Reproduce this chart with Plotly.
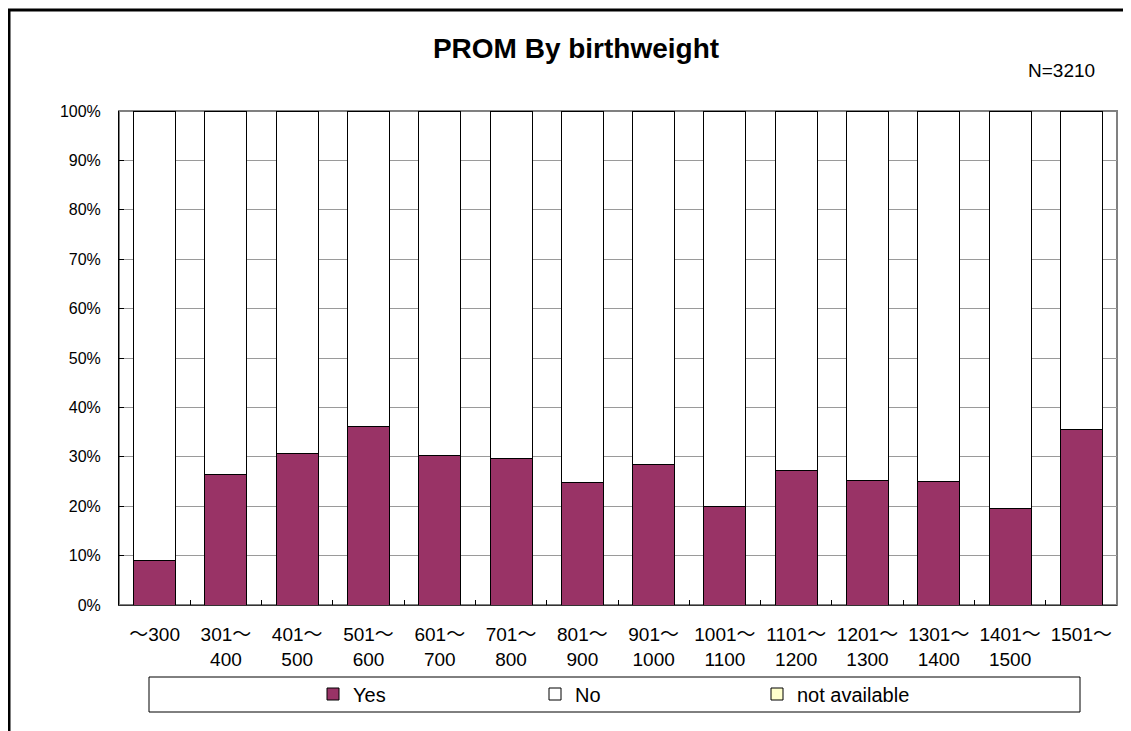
import plotly.graph_objects as go

categories = ["～300", "301～<br>400", "401～<br>500", "501～<br>600", "601～<br>700",
              "701～<br>800", "801～<br>900", "901～<br>1000", "1001～<br>1100",
              "1101～<br>1200", "1201～<br>1300", "1301～<br>1400", "1401～<br>1500", "1501～"]
yes_pct = [9.1, 26.5, 30.6, 36.2, 30.2, 29.6, 24.8, 28.4, 20.0, 27.3, 25.2, 24.9, 19.6, 35.6]
no_pct = [90.9, 73.5, 69.4, 63.8, 69.8, 70.4, 75.2, 71.6, 80.0, 72.7, 74.8, 75.1, 80.4, 64.4]
na_pct = [0, 0, 0, 0, 0, 0, 0, 0, 0, 0, 0, 0, 0, 0]
y_ticks = [0, 10, 20, 30, 40, 50, 60, 70, 80, 90, 100]
y_tick_labels = ["0%", "10%", "20%", "30%", "40%", "50%", "60%", "70%", "80%", "90%", "100%"]

FONT = "Liberation Sans, Arial, Noto Sans CJK JP, sans-serif"

# page offset (browser body margin)
OFF = 8
W, H = 1131 - OFF, 731 - OFF
# plot area in page pixels
L, R, T, B = 119, 1117, 111, 605

def px(x):
    return (x - L) / (R - L)

def py(y):
    return (B - y) / (B - T)

fig = go.Figure()
fig.add_trace(go.Bar(x=categories, y=yes_pct, name="Yes",
                     marker=dict(color="#993366", line=dict(color="black", width=1))))
fig.add_trace(go.Bar(x=categories, y=no_pct, name="No",
                     marker=dict(color="white", line=dict(color="black", width=1))))
fig.add_trace(go.Bar(x=categories, y=na_pct, name="not available",
                     marker=dict(color="#FFFFCC", line=dict(color="black", width=1))))

fig.update_layout(
    width=W, height=H,
    barmode="stack", bargap=0.41,
    paper_bgcolor="white", plot_bgcolor="white",
    margin=dict(l=L - OFF, r=W - (R - OFF), t=T - OFF, b=H - (B - OFF), pad=0),
    font=dict(family=FONT, color="black", size=16),
    title=dict(text="<b>PROM By birthweight</b>", x=(576 - OFF) / W, xref="container",
               xanchor="center", y=1 - (48 - OFF) / H, yref="container", yanchor="middle",
               font=dict(size=28, family=FONT, color="black")),
    showlegend=True,
    legend=dict(orientation="h", traceorder="normal", x=px(313), xanchor="left",
                y=py(694), yanchor="middle", entrywidth=177, entrywidthmode="pixels",
                font=dict(size=20, family=FONT), bgcolor="rgba(0,0,0,0)", borderwidth=0),
    xaxis=dict(type="category", showgrid=False, tickson="boundaries", ticks="inside",
               ticklen=5, tickcolor="black", showline=True, linecolor="#333333", linewidth=1,
               tickfont=dict(size=19, family=FONT), tickangle=0, ticklabelstandoff=12),
    yaxis=dict(range=[0, 100], tickvals=y_ticks, ticktext=y_tick_labels, showgrid=True,
               gridcolor="#9a9a9a", gridwidth=1, ticks="inside", ticklen=5, tickcolor="black",
               showline=True, linecolor="black", linewidth=1, ticklabelstandoff=14,
               tickfont=dict(size=16, family=FONT), zeroline=False),
    annotations=[dict(text="N=3210", xref="paper", yref="paper", x=px(1097), y=py(70),
                      xanchor="right", yanchor="middle", showarrow=False,
                      font=dict(size=19, family=FONT))],
    shapes=[
        dict(type="rect", xref="paper", yref="paper", x0=0, x1=1, y0=0, y1=1,
             line=dict(color="#808080", width=2), layer="below"),
        dict(type="rect", xref="paper", yref="paper", x0=px(149), x1=px(1080),
             y0=py(712), y1=py(677), line=dict(color="black", width=1), layer="below"),
        dict(type="rect", xref="paper", yref="paper", x0=px(9), x1=px(1160),
             y0=py(760), y1=py(10), line=dict(color="black", width=3)),
    ],
)

fig.write_html("out.html")
